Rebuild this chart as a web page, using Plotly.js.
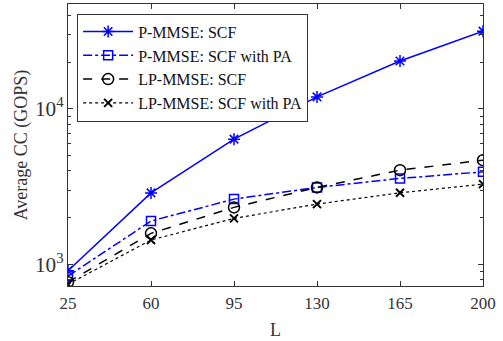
<!DOCTYPE html>
<html>
<head>
<meta charset="utf-8">
<script src="https://cdn.plot.ly/plotly-3.0.1.min.js"></script>
<style>html,body{margin:0;padding:0;background:#fff;}#chart{width:503px;height:341px;}</style>
</head>
<body>
<div id="chart"></div>
<script>
var L = [25, 60, 95, 130, 165, 200];
var pmmseSCF = [915, 2890, 6400, 11950, 20300, 31600];
var pmmseSCFPA = [845, 1906, 2636, 3133, 3580, 3945];
var lpmmseSCF = [771, 1589, 2333, 3133, 4047, 4690];
var lpmmseSCFPA = [748, 1440, 1983, 2449, 2894, 3289];
var names = ['P-MMSE: SCF', 'P-MMSE: SCF with PA', 'LP-MMSE: SCF', 'LP-MMSE: SCF with PA'];

var font = 'Liberation Serif, Times New Roman, serif';
var traces = [
  {x: L, y: pmmseSCF, name: names[0], mode: 'lines+markers',
   line: {color: '#0000ff', width: 1.5, dash: 'solid'},
   marker: {symbol: 'asterisk-open', size: 10, color: '#0000ff', line: {color: '#0000ff', width: 1.5}}},
  {x: L, y: pmmseSCFPA, name: names[1], mode: 'lines+markers',
   line: {color: '#0000ff', width: 1.5, dash: 'dashdot'},
   marker: {symbol: 'square-open', size: 9, color: '#0000ff', line: {color: '#0000ff', width: 1.5}}},
  {x: L, y: lpmmseSCF, name: names[2], mode: 'lines+markers',
   line: {color: '#000000', width: 1.5, dash: 'dash'},
   marker: {symbol: 'circle-open', size: 11, color: '#000000', line: {color: '#000000', width: 1.5}}},
  {x: L, y: lpmmseSCFPA, name: names[3], mode: 'lines+markers',
   line: {color: '#000000', width: 1.2, dash: 'dot'},
   marker: {symbol: 'x-thin-open', size: 8, color: '#000000', line: {color: '#000000', width: 2}}}
];

var layout = {
  width: 503, height: 341,
  margin: {l: 68, r: 20, t: 3.5, b: 55},
  paper_bgcolor: '#fff', plot_bgcolor: '#fff',
  showlegend: true,
  font: {family: font, size: 17, color: '#333'},
  xaxis: {
    range: [25, 200], tickvals: L, ticktext: L.map(String),
    ticks: 'inside', ticklen: 5, tickcolor: '#333', showline: true, linecolor: '#333', linewidth: 1,
    mirror: 'ticks', showgrid: false, zeroline: false, ticklabelstandoff: 2,
    tickfont: {family: font, size: 17, color: '#333'},
    title: {text: 'L', font: {family: font, size: 18, color: '#333'}, standoff: 10}
  },
  yaxis: {
    type: 'log', range: [2.863, 4.674], dtick: 1, exponentformat: 'power',
    ticks: 'inside', ticklen: 5, tickcolor: '#333', showline: true, linecolor: '#333', linewidth: 1,
    mirror: 'ticks', showgrid: false, zeroline: false,
    minor: {dtick: 'D1', ticks: 'inside', ticklen: 3, tickcolor: '#333', showgrid: false},
    tickfont: {family: font, size: 17, color: '#333'},
    title: {text: 'Average CC (GOPS)', font: {family: font, size: 18, color: '#333'}, standoff: 2}
  },
  legend: {
    x: 0.022, y: 0.966, xanchor: 'left', yanchor: 'top',
    bgcolor: '#fff', bordercolor: '#333', borderwidth: 1,
    font: {family: font, size: 16, color: '#111'},
    itemwidth: 50, tracegroupgap: 0
  }
};

Plotly.newPlot('chart', traces, layout, {displayModeBar: false, staticPlot: true});
</script>
</body>
</html>
